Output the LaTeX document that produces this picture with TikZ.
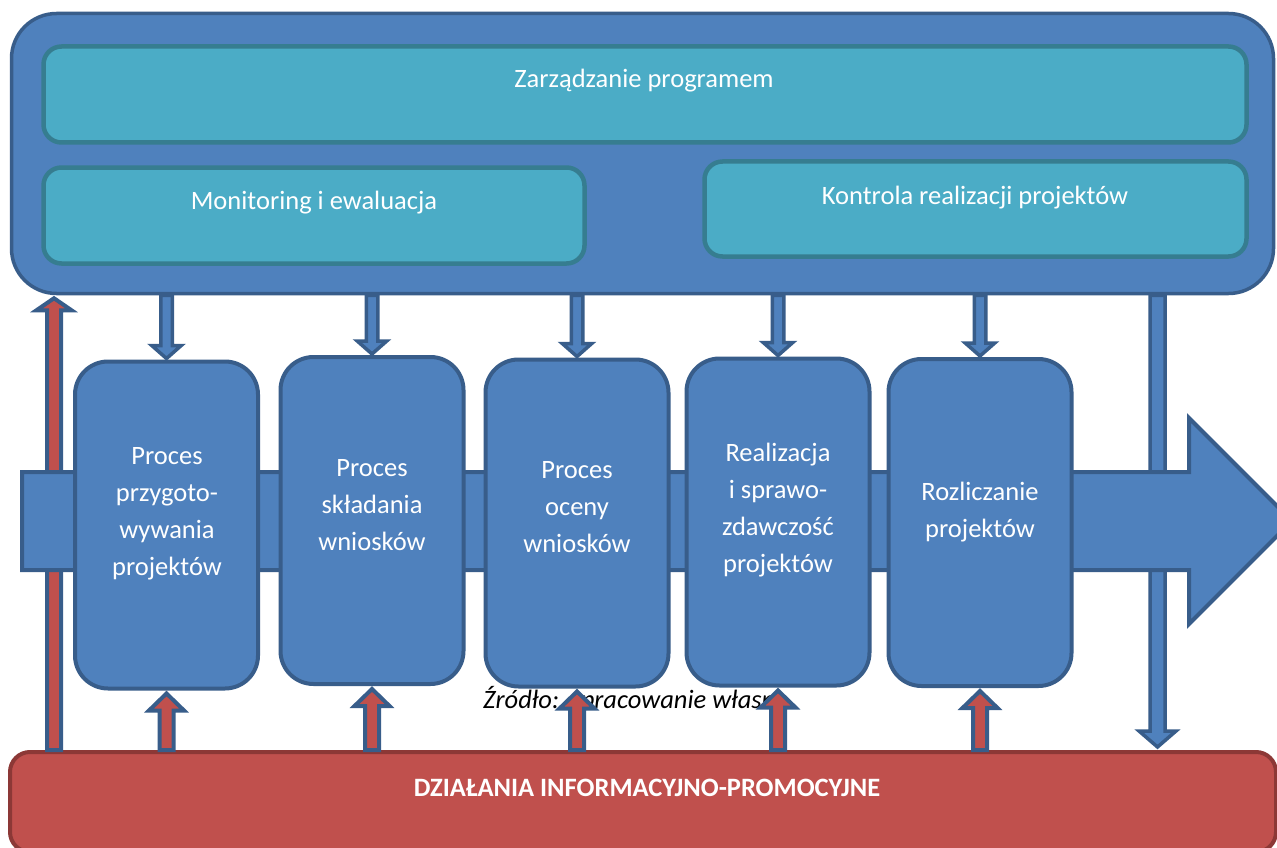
\documentclass[tikz,border=0pt]{standalone}
\usepackage{fontspec}
\setmainfont{Carlito}
\usetikzlibrary{calc}
\definecolor{bfill}{HTML}{4F81BD}
\definecolor{bline}{HTML}{385D8A}
\definecolor{tfill}{HTML}{4BACC6}
\definecolor{tline}{HTML}{367D90}
\definecolor{rfill}{HTML}{C0504D}
\definecolor{rline}{HTML}{8C3836}
% #1 style, #2 start coord, #3 tip coord, #4 half shaft, #5 half head, #6 head length
\newcommand\vblockarrow[6][]{%
  \draw[#1] let \p1=(#2), \p2=(#3), \p3=($(#3)!#6!(#2)$) in
    (\x1-#4,\y1) -- (\x3-#4,\y3) -- (\x3-#5,\y3) -- (\x2,\y2) -- (\x3+#5,\y3) -- (\x3+#4,\y3) -- (\x1+#4,\y1) -- cycle;}
\tikzset{
  topbox/.style={draw=bline, fill=bfill, line width=3.5pt, rounded corners=45pt, inner sep=0pt},
  tealbox/.style={draw=tline, fill=tfill, line width=4.5pt, rounded corners=18pt, inner sep=0pt},
  procbox/.style={draw=bline, fill=bfill, line width=4pt, rounded corners=33pt, minimum width=183pt, minimum height=327pt, inner sep=0pt},
  barbox/.style={draw=rline, fill=rfill, line width=4pt, rounded corners=20pt, inner sep=0pt},
  wtext/.style={text=white, font=\fontsize{26.5}{37}\selectfont, inner sep=0pt, align=center},
  bluearrow/.style={draw=bline, fill=bfill, line width=3.5pt, line join=miter},
  redarrow/.style={draw=bline, fill=rfill, line width=4pt, line join=miter},
  bigarrow/.style={draw=bline, fill=bfill, line width=4pt, line join=miter},
}
\begin{document}
\begin{tikzpicture}[x=1pt,y=-1pt]
\useasboundingbox (0,0) rectangle (1277,848);
\clip (0,0) rectangle (1277,848);
\fill[white] (0,0) rectangle (1277,848);

% top management box
\node[topbox, minimum width=1262pt, minimum height=280pt] (top) at (642.5,153.5) {};
\node[tealbox, minimum width=1203pt, minimum height=96pt] (zp) at (645,94.5) {};
\node[wtext, anchor=base] (zpt) at (644,88) {Zarządzanie programem};
\node[tealbox, minimum width=541pt, minimum height=96pt] (me) at (314,215.5) {};
\node[wtext, anchor=base] (met) at (314,209) {Monitoring i ewaluacja};
\node[tealbox, minimum width=542pt, minimum height=95pt] (kr) at (975.5,209) {};
\node[wtext, anchor=base] (krt) at (975,204) {Kontrola realizacji projektów};

% bottom bar
\node[barbox, minimum width=1266pt, minimum height=100pt] (bar) at (643,802) {};
\node[wtext, anchor=base, font=\bfseries\fontsize{26.5}{37}\selectfont] (bart) at (647,796) {DZIAŁANIA INFORMACYJNO-PROMOCYJNE};

% long side arrows
\coordinate (xl) at (54,0);
\coordinate (xr) at (1157.5,0);
\coordinate (lA) at (xl |- bar.north);
\coordinate (lB) at ($(xl |- top.south)+(0,3)$);
\vblockarrow[redarrow]{lA}{lB}{7pt}{17.5pt}{12pt}
\coordinate (rA) at (xr |- top.south);
\coordinate (rB) at ($(xr |- bar.north)+(0,-3)$);
\vblockarrow[bluearrow]{rA}{rB}{7.5pt}{18.5pt}{16pt}

% big horizontal arrow
\draw[bigarrow] (22,472) -- (1189,472) -- (1189,418) -- (1292,521) -- (1189,624) -- (1189,570) -- (22,570) -- cycle;

% process boxes
\node[procbox] (p1) at (166.5,525) {};
\node[procbox] (p2) at (372,520.5) {};
\node[procbox] (p3) at (577,523) {};
\node[procbox] (p4) at (778,522) {};
\node[procbox] (p5) at (980,522.5) {};
\node[wtext] (t1) at (167,514) {Proces\\przygoto-\\wywania\\projektów};
\node[wtext] (t2) at (372,505) {Proces\\składania\\wniosków};
\node[wtext] (t3) at (577,507) {Proces\\oceny\\wniosków};
\node[wtext] (t4) at (778,510) {Realizacja\\i sprawo-\\zdawczość\\projektów};
\node[wtext] (t5) at (980,512) {Rozliczanie\\projektów};

% down arrows
\foreach \i in {1,...,5}{
  \coordinate (dA\i) at (p\i.north |- top.south);
  \coordinate (dB\i) at ($(p\i.north)+(0,-1)$);
  \vblockarrow[bluearrow]{dA\i}{dB\i}{5.75pt}{14.75pt}{13pt}
}

% source text (partly hidden by arrows)
\node[anchor=base west, inner sep=0pt, font=\itshape\fontsize{26.5}{37}\selectfont] (src) at (483,708) {Źródło: opracowanie własne};

% up arrows
\foreach \i in {1,...,5}{
  \coordinate (uA\i) at (p\i.south |- bar.north);
  \coordinate (uB\i) at ($(p\i.south)+(0,3)$);
  \vblockarrow[redarrow]{uA\i}{uB\i}{7pt}{17.5pt}{17pt}
}
\end{tikzpicture}
\end{document}
